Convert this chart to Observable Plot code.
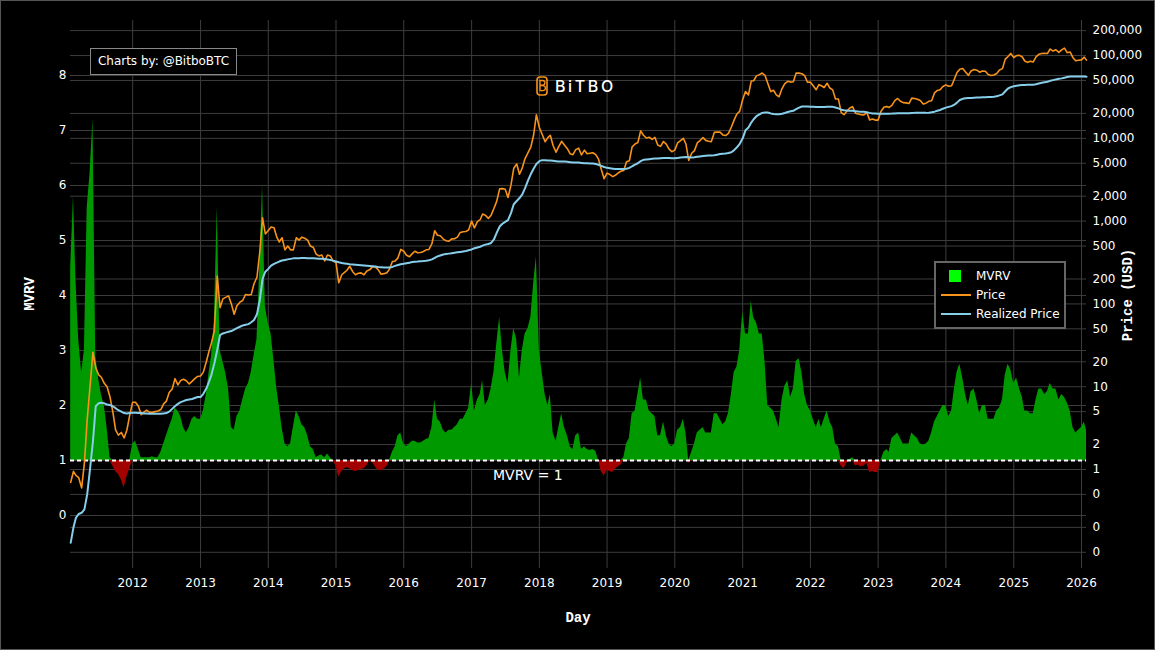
<!DOCTYPE html>
<html><head><meta charset="utf-8">
<script src="https://cdn.jsdelivr.net/npm/d3@7"></script>
<script src="https://cdn.jsdelivr.net/npm/@observablehq/plot@0.6"></script>
<style>
html,body{margin:0;padding:0;background:#000;}
#chart{position:relative;width:1155px;height:650px;background:#000;overflow:hidden;font-family:"DejaVu Sans",Verdana,sans-serif;color:#fff;}
#chart svg{position:absolute;left:0;top:0;}
.ttl{position:absolute;font-family:"Liberation Mono",monospace;font-weight:bold;font-size:14px;color:#fff;white-space:nowrap;}
#frame{position:absolute;left:0;top:0;width:1155px;height:650px;box-sizing:border-box;border:1px solid #555;pointer-events:none;}
#credit{position:absolute;left:90px;top:48px;width:147px;height:27px;box-sizing:border-box;border:1px solid #888;font-size:12px;line-height:25px;text-align:center;color:#fff;background:#000;}
#legend{position:absolute;left:934px;top:261px;width:132px;height:68px;box-sizing:border-box;border:2px solid #666;background:#000;font-size:12px;}
#legend .it{position:absolute;left:40px;line-height:14px;color:#fff;white-space:nowrap;}
#logo{position:absolute;left:536px;top:75px;height:21px;display:flex;align-items:center;gap:7px;}
#logo span{font-family:Inter,"DejaVu Sans",sans-serif;font-size:16px;font-weight:500;letter-spacing:2.6px;color:#fff;}
</style></head>
<body><div id="chart"></div>
<script>
// ---- data (semi-monthly readings: 1st and 16th of each month, Feb 2011 .. Jan 2026, plus last day) ----
const mvrv = [
  4.5,5.8,4.3,3.2,2.6,3.0,5.6,6.2,7.2,2.9,2.5,2.2,2.0,1.6,1.05,0.9,0.8,0.75,0.65,0.5,0.7,0.85,
  1.3,1.35,1.2,1.05,1.05,1.05,1.05,1.07,1.05,1.05,1.15,1.3,1.45,1.6,1.75,1.95,1.9,1.8,1.6,1.5,1.6,1.75,1.8,1.75,
  1.75,1.9,2.2,2.6,2.9,3.5,5.6,3.0,2.8,2.6,2.3,1.6,1.55,1.8,1.9,2.1,2.3,2.4,2.6,2.9,3.2,4.5,6.0,3.8,
  3.5,3.3,2.8,2.3,2.0,1.6,1.3,1.25,1.3,1.6,1.9,1.8,1.65,1.6,1.45,1.25,1.2,1.05,1.08,1.1,1.05,1.12,1.05,1.0,
  0.9,0.7,0.8,0.85,0.87,0.85,0.82,0.8,0.82,0.83,0.85,0.9,0.98,0.97,0.88,0.82,0.82,0.84,0.88,0.98,1.15,1.25,1.45,1.5,
  1.3,1.25,1.3,1.35,1.35,1.32,1.32,1.35,1.38,1.4,1.6,2.1,1.75,1.7,1.55,1.5,1.55,1.55,1.6,1.65,1.75,1.75,1.85,1.95,
  2.4,1.9,2.1,2.2,2.45,2.0,2.1,2.3,2.6,3.1,3.6,3.0,2.6,2.4,3.0,3.4,3.2,2.5,3.0,3.3,3.4,3.6,4.2,4.7,
  3.0,2.6,2.2,2.0,2.2,1.5,1.35,1.6,1.85,1.6,1.45,1.25,1.2,1.45,1.5,1.2,1.25,1.2,1.18,1.2,1.17,1.0,0.8,0.72,
  0.82,0.8,0.78,0.85,0.88,0.92,1.05,1.3,1.4,1.85,1.9,2.2,2.5,2.1,2.1,1.9,1.85,1.8,1.45,1.45,1.7,1.45,1.3,1.25,
  1.3,1.55,1.6,1.75,1.5,0.95,1.15,1.3,1.5,1.55,1.6,1.5,1.5,1.5,1.85,1.85,1.75,1.65,1.7,1.85,2.2,2.6,2.7,3.0,
  3.7,3.3,3.3,3.9,3.6,3.5,3.3,3.3,2.8,2.0,1.95,1.9,1.75,1.6,2.1,2.35,2.45,2.15,2.3,2.8,2.85,2.6,2.2,2.0,
  1.9,1.75,1.6,1.75,1.6,1.75,1.9,1.7,1.6,1.3,1.25,0.9,0.85,0.95,1.02,1.05,0.9,0.92,0.88,0.9,0.95,0.78,0.8,0.78,
  0.78,1.0,1.15,1.2,1.15,1.4,1.45,1.5,1.4,1.3,1.3,1.3,1.5,1.45,1.4,1.3,1.28,1.3,1.35,1.5,1.7,1.8,1.9,2.0,
  2.0,1.8,1.9,2.3,2.6,2.75,2.5,2.2,2.0,2.25,2.3,2.1,1.85,2.0,2.0,1.75,1.75,1.75,1.9,1.95,2.1,2.55,2.75,2.65,
  2.4,2.5,2.3,2.15,1.9,1.9,1.85,1.85,2.1,2.3,2.3,2.2,2.25,2.4,2.3,2.3,2.1,2.2,2.15,2.05,1.9,1.6,1.5,1.55,
  1.6,1.7,1.55
];
const price = [
  0.7,0.95,0.85,0.8,0.6,1.2,4.0,10,26,17,14,13,11,10,7.5,5.0,3.0,2.6,2.8,2.4,3.0,4.5,
  6.5,6.5,5.8,4.6,4.9,5.2,4.9,4.9,5.0,5.1,5.3,6.2,6.7,8.5,9.4,12.5,10.5,11.9,12.3,11.8,10.8,11.6,12.5,13.3,
  13.5,15,20,27,34,47,215,90,115,120,125,100,75,95,105,110,130,128,130,175,210,420,1100,700,
  770,850,830,640,560,630,450,500,450,450,630,590,640,620,590,500,480,400,380,390,330,390,380,330,
  315,180,225,240,255,285,245,225,235,237,225,250,258,280,280,260,228,232,237,262,325,330,360,455,
  432,387,372,405,433,415,417,430,450,455,535,765,675,665,607,580,572,610,613,640,730,745,750,785,
  1000,830,985,1040,1220,1180,1080,1180,1420,1730,2450,2470,2430,1930,2720,4350,4900,3680,4400,5700,6700,7850,10900,19300,
  13500,11200,9100,10200,10900,8200,6800,8000,9200,8300,7500,6500,6350,7300,7600,6300,7200,6500,6600,6700,6350,5600,4200,3250,
  3800,3650,3450,3600,3800,4000,4100,5200,5350,7900,8550,8900,12300,10900,10100,10300,9700,10250,8300,8000,9150,8500,7400,6900,
  7200,8800,9380,10000,8550,5400,6600,7100,8800,9400,10200,9450,9230,9130,11800,11900,11900,11000,10800,11500,13700,16700,19700,21300,
  29400,36800,33500,49200,49600,56800,58800,61500,57800,46400,36700,38100,33500,31800,39900,45900,48800,47800,48200,61500,61300,60300,57200,47600,
  47700,43100,38700,44500,43200,41100,46300,40500,38500,29900,29800,20400,19300,21200,23300,24100,20100,19700,19300,19200,20500,16700,17100,16600,
  16600,21100,23700,24300,23600,25000,28500,30300,28000,27000,26800,26300,30600,30300,29700,28700,25900,26600,28000,28500,35400,37900,38700,42300,
  44200,42600,43100,52100,62400,68300,69700,63400,57700,65200,67800,66600,62900,65100,64600,58900,57300,58200,60800,67000,69500,90500,97200,106000,
  94400,99800,100600,96100,86000,82700,85200,83600,96500,103500,105800,106800,105700,119800,113300,117400,109200,116800,123000,108200,110100,94200,86300,87800,
  88700,95500,88000
];
const realized = [
  0.13,0.2,0.26,0.29,0.3,0.33,0.5,1.0,2.2,5.8,6.3,6.4,6.3,6.1,6.0,5.8,5.5,5.2,5.0,4.8,4.75,4.8,
  4.85,4.85,4.8,4.8,4.75,4.75,4.7,4.7,4.7,4.7,4.7,4.75,4.8,5.0,5.4,5.8,6.2,6.5,6.7,6.9,7.0,7.1,7.3,7.5,
  7.5,8.2,9.5,11.5,14,19,28,42,44,45,46,47,49,51,53,55,56,57,60,64,75,110,200,245,
  265,290,305,315,325,335,340,345,350,355,355,357,358,358,357,356,355,354,352,350,348,345,340,333,
  325,318,312,308,305,302,300,298,296,294,292,290,288,286,283,280,278,276,275,276,280,288,295,302,
  305,310,315,320,323,325,328,330,333,337,345,360,375,385,395,400,405,410,415,420,425,430,435,445,
  455,470,480,490,505,520,530,545,600,720,860,930,980,1030,1250,1600,1750,1900,2100,2500,3100,3700,4300,4900,
  5300,5450,5450,5400,5400,5350,5300,5250,5250,5250,5200,5150,5100,5100,5100,5050,5000,5000,4950,4950,4900,4800,4650,4500,
  4400,4350,4300,4250,4250,4250,4250,4300,4400,4600,4800,5000,5300,5500,5550,5600,5650,5700,5700,5750,5800,5800,5800,5750,
  5750,5800,5850,5900,5950,5900,5850,5900,6000,6050,6100,6150,6200,6200,6250,6350,6450,6500,6550,6650,6800,7200,7800,8600,
  10000,12500,13500,15500,17000,18500,19500,20300,20500,20500,20000,19700,19500,19500,19800,20200,20800,21200,21500,22500,23500,24200,24300,24200,
  24100,24000,23900,23900,23900,23900,24000,24000,24000,23600,23000,22200,21900,21700,21600,21500,21300,21100,21000,20900,20700,20300,20000,19900,
  19800,19800,19800,19850,19850,19900,20000,20100,20100,20100,20100,20100,20200,20300,20300,20300,20300,20300,20400,20600,21000,21500,22000,22800,
  23500,24000,24500,25500,27000,29000,30000,30500,30700,30800,31000,31200,31200,31300,31400,31500,31600,31800,32200,33000,34000,37000,40000,41500,
  42500,43200,43800,44000,44200,44300,44400,44500,45000,46000,47000,47600,48200,49500,50500,51500,52300,53000,54000,55000,55700,56000,56000,56000,
  55800,55700,55600
];
const yearTicks = [2012,2013,2014,2015,2016,2017,2018,2019,2020,2021,2022,2023,2024,2025,2026];
const mvrvTicks = [0,1,2,3,4,5,6,7,8];
const mvrvTickLabels = ["0","1","2","3","4","5","6","7","8"];
const priceTicks = [0.1,0.2,0.5,1,2,5,10,20,50,100,200,500,1000,2000,5000,10000,20000,50000,100000,200000];
const priceTickLabels = ["0","0","0","1","2","5","10","20","50","100","200","500","1,000","2,000","5,000","10,000","20,000","50,000","100,000","200,000"];
const legendItems = [
  {label: "MVRV", kind: "square", color: "#00ff00"},
  {label: "Price", kind: "line", color: "#f7931a"},
  {label: "Realized Price", kind: "line", color: "#87ceeb"}
];
const annotation = [{date: "2017-10-31", value: 0.73, label: "MVRV = 1"}];

// ---- build dates ----
const dates = [];
for (let k = 1; k <= 180; k++) {
  dates.push(new Date(Date.UTC(2011, k, 1)), new Date(Date.UTC(2011, k, 16)));
}
dates.push(new Date(Date.UTC(2026, 0, 28)));
const n = Math.min(dates.length, mvrv.length, price.length, realized.length);
const rows = d3.range(n).map(i => ({date: dates[i], mvrv: mvrv[i], price: price[i], realized: realized[i]}));

const W = 1155, H = 650;
const M = {left: 70, right: 69, top: 20, bottom: 82};
const xDomain = [new Date(Date.UTC(2011, 0, 31)), new Date(Date.UTC(2026, 0, 28))];
const yearDates = yearTicks.map(y => new Date(Date.UTC(y, 0, 1)));
const priceDomain = [0.0637, 265000];
const gridColor = "#3d3d3d";
const base = {
  width: W, height: H,
  marginLeft: M.left, marginRight: M.right, marginTop: M.top, marginBottom: M.bottom,
  style: {background: "transparent", color: "#fff", fontFamily: "'DejaVu Sans', Verdana, sans-serif", fontSize: "12px", overflow: "visible"}
};
const priceRows = priceTicks.map((t, i) => ({value: t, label: priceTickLabels[i]}));
const mvrvRows = mvrvTicks.map((t, i) => ({value: t, label: mvrvTickLabels[i]}));

// back layer: price grid + right tick labels
const back = Plot.plot({
  ...base,
  y: {type: "log", domain: priceDomain, axis: null},
  marks: [
    Plot.gridY(priceTicks, {stroke: gridColor, strokeOpacity: 1, strokeWidth: 1}),
    Plot.text(priceRows, {y: "value", text: "label", frameAnchor: "right", textAnchor: "start", dx: 6, fill: "#fff", fontSize: 12})
  ]
});

// middle layer: MVRV
const mid = Plot.plot({
  ...base,
  x: {type: "utc", domain: xDomain},
  y: {domain: [-0.964, 9.0], axis: null},
  marks: [
    Plot.gridX(yearDates, {stroke: gridColor, strokeOpacity: 1, strokeWidth: 1}),
    Plot.gridY(mvrvTicks, {stroke: gridColor, strokeOpacity: 1, strokeWidth: 1}),
    Plot.areaY(rows, {x: "date", y1: 1, y2: d => Math.max(1, d.mvrv), fill: "#009a00"}),
    Plot.areaY(rows, {x: "date", y1: 1, y2: d => Math.min(1, d.mvrv), fill: "#a30000"}),
    Plot.ruleY([1], {stroke: "#fff", strokeWidth: 2, strokeDasharray: "4,3"}),
    Plot.text(annotation, {x: d => new Date(d.date), y: "value", text: "label", fill: "#fff", fontSize: 14}),
    Plot.axisX(yearDates, {tickSize: 0, tickPadding: 10, tickFormat: d3.utcFormat("%Y"), label: null, fill: "#fff", fontSize: 12}),
    Plot.text(mvrvRows, {y: "value", text: "label", frameAnchor: "left", textAnchor: "end", dx: -4, fill: "#fff", fontSize: 12})
  ]
});

// front layer: price lines
const front = Plot.plot({
  ...base,
  x: {type: "utc", domain: xDomain, axis: null},
  y: {type: "log", domain: priceDomain, axis: null},
  marks: [
    Plot.lineY(rows, {x: "date", y: "price", stroke: "#f7931a", strokeWidth: 1.6}),
    Plot.lineY(rows, {x: "date", y: "realized", stroke: "#87ceeb", strokeWidth: 2})
  ]
});

const chart = document.getElementById("chart");
chart.append(back, mid, front);

function addDiv(html, css, cls) {
  const d = document.createElement("div");
  if (cls) d.className = cls;
  d.innerHTML = html;
  Object.assign(d.style, css);
  chart.appendChild(d);
  return d;
}
// axis titles
addDiv("MVRV", {left: "30px", top: "294px", transform: "translate(-50%,-50%) rotate(-90deg)"}, "ttl");
addDiv("Price (USD)", {left: "1128px", top: "295px", transform: "translate(-50%,-50%) rotate(-90deg)"}, "ttl");
addDiv("Day", {left: "578px", top: "618px", transform: "translate(-50%,-50%)"}, "ttl");

// credit box
const credit = document.createElement("div");
credit.id = "credit"; credit.textContent = "Charts by: @BitboBTC";
chart.appendChild(credit);

// logo
const logo = document.createElement("div");
logo.id = "logo";
logo.innerHTML = '<svg width="12" height="20" viewBox="0 0 12 20" style="position:static"><rect x="1" y="1" width="10" height="18" rx="3" fill="none" stroke="#f7931a" stroke-width="1.6"/><path d="M4 4.5h2.6a2.3 2.3 0 0 1 0 4.6H4z M4 9.6h2.9a2.5 2.5 0 0 1 0 5H4z" fill="none" stroke="#f7931a" stroke-width="1.3"/></svg><span>BiTBO</span>';
chart.appendChild(logo);

// legend
const legend = document.createElement("div");
legend.id = "legend";
legendItems.forEach((it, i) => {
  const cy = 13 + i * 19;
  if (it.kind === "square") {
    const s = document.createElement("div");
    Object.assign(s.style, {position: "absolute", left: "13px", top: (cy - 6) + "px", width: "12px", height: "12px", background: it.color});
    legend.appendChild(s);
  } else {
    const l = document.createElement("div");
    Object.assign(l.style, {position: "absolute", left: "5px", top: (cy - 1) + "px", width: "30px", height: "2px", background: it.color});
    legend.appendChild(l);
  }
  const t = document.createElement("div");
  t.className = "it";
  t.textContent = it.label;
  t.style.top = (cy - 7) + "px";
  legend.appendChild(t);
});
chart.appendChild(legend);

const frame = document.createElement("div");
frame.id = "frame";
chart.appendChild(frame);
</script>
</body></html>
